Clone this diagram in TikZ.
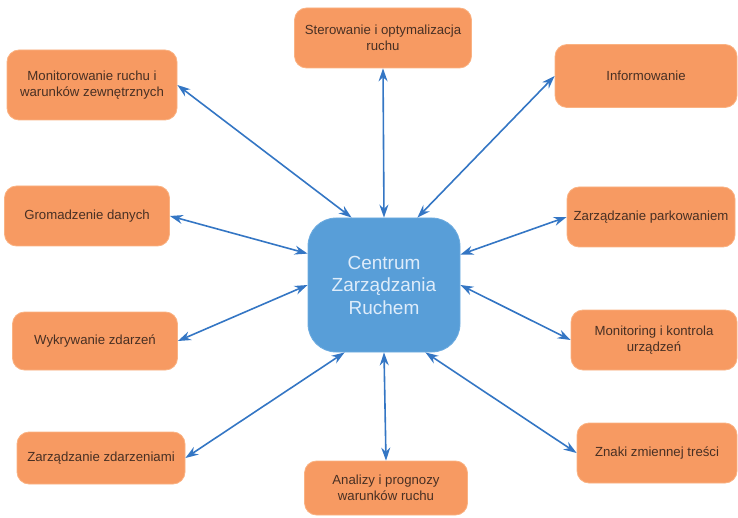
\documentclass[tikz,border=0pt]{standalone}
\usepackage{fontspec}
\setmainfont{Liberation Sans}
\usetikzlibrary{arrows.meta}

\definecolor{boxorange}{RGB}{247,154,98}
\definecolor{boxedge}{RGB}{250,178,130}
\definecolor{hubblue}{RGB}{88,158,216}
\definecolor{hubedge}{RGB}{110,172,224}
\definecolor{linkblue}{RGB}{52,118,196}
\definecolor{boxtext}{RGB}{72,48,36}
\definecolor{hubtext}{RGB}{222,236,250}

\tikzset{
    task/.style={draw=boxedge, line width=0.8pt, fill=boxorange, rounded corners=12pt,
        align=center, text=boxtext, inner sep=2pt,
        font=\fontsize{13.2}{16.5}\selectfont},
    hub/.style={draw=hubedge, line width=0.8pt, fill=hubblue, rounded corners=28pt,
        align=center, text=hubtext, minimum width=152pt, minimum height=134pt,
        font=\fontsize{19}{22.5}\selectfont},
    link/.style={linkblue, line width=1.6pt, {Stealth[length=13pt,width=9pt]}-{Stealth[length=13pt,width=9pt]}}
}

\begin{document}
\begin{tikzpicture}[x=1pt, y=-1pt]
        \useasboundingbox (0,0) rectangle (738,518);

        \node[hub] (czr) at (384,285) {Centrum\\Zarządzania\\Ruchem};

        \node[task, minimum width=170pt, minimum height=70pt] (mon) at (92,85) {Monitorowanie ruchu i\\warunków zewnętrznych};
        \node[task, minimum width=177pt, minimum height=60pt] (ster) at (383,38) {Sterowanie i optymalizacja\\ruchu};
        \node[task, minimum width=182pt, minimum height=63pt] (info) at (646,76) {Informowanie};
        \node[task, minimum width=165pt, minimum height=60pt] (grom) at (87,216) {Gromadzenie danych};
        \node[task, minimum width=168pt, minimum height=60pt] (park) at (651,217) {Zarządzanie parkowaniem};
        \node[task, minimum width=165pt, minimum height=58pt] (wykr) at (95,341) {Wykrywanie zdarzeń};
        \node[task, minimum width=166pt, minimum height=60pt] (monk) at (654,340) {Monitoring i kontrola\\urządzeń};
        \node[task, minimum width=168pt, minimum height=52pt] (zzd) at (101,458) {Zarządzanie zdarzeniami};
        \node[task, minimum width=163pt, minimum height=54pt] (anal) at (386,488) {Analizy i prognozy\\warunków ruchu};
        \node[task, minimum width=160pt, minimum height=60pt] (znaki) at (657,453) {Znaki zmiennej treści};

        % connectors to the hub
        \draw[link] (mon.east) -- ([xshift=44pt]czr.north west);
        \draw[link] (ster.south) -- (czr.north);
        \draw[link] (info.west) -- ([xshift=-43pt]czr.north east);
        \draw[link] (grom.east) -- ([yshift=-36pt]czr.north west);
        \draw[link] (park.west) -- ([yshift=-37pt]czr.north east);
        \draw[link] (wykr.east) -- (czr.west);
        \draw[link] (monk.west) -- (czr.east);
        \draw[link] (zzd.east) -- ([xshift=37pt]czr.south west);
        \draw[link] (anal.north) -- (czr.south);
        \draw[link] (znaki.west) -- ([xshift=-35pt]czr.south east);
    \end{tikzpicture}
\end{document}
